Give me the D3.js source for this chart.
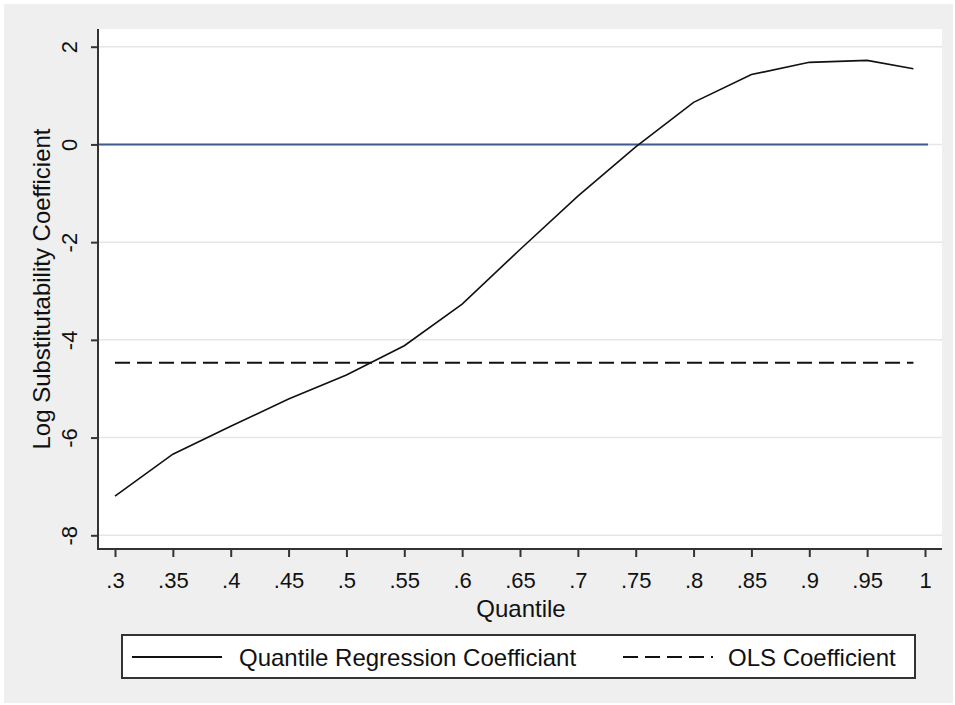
<!DOCTYPE html>
<html>
<head>
<meta charset="utf-8">
<script src="https://cdn.jsdelivr.net/npm/d3@7"></script>
<style>
  body { margin: 0; background: #fff; }
  text { font-family: "Liberation Sans", Arial, sans-serif; fill: #111; }
</style>
</head>
<body>
<script>
/*
DATA
*/
const quantiles = [0.30, 0.35, 0.40, 0.45, 0.50, 0.55, 0.60, 0.65, 0.70, 0.75, 0.80, 0.85, 0.90, 0.95, 0.99]
const qrCoef    = [-7.20, -6.34, -5.77, -5.21, -4.72, -4.12, -3.27, -2.15, -1.06, -0.05, 0.86, 1.43, 1.68, 1.72, 1.55]
const olsCoef   = -4.47
const xTicks = [0.3, 0.35, 0.4, 0.45, 0.5, 0.55, 0.6, 0.65, 0.7, 0.75, 0.8, 0.85, 0.9, 0.95, 1]
const xTickLabels = [".3", ".35", ".4", ".45", ".5", ".55", ".6", ".65", ".7", ".75", ".8", ".85", ".9", ".95", "1"]
const yTicks = [2, 0, -2, -4, -6, -8]
const yTickLabels = ["2", "0", "-2", "-4", "-6", "-8"]
const legendLabels = ["Quantile Regression Coefficiant", "OLS Coefficient"]

/*
SET UP
*/
const w = 955
const h = 705
// plot region (white box)
const plot = ({left: 99, top: 29, right: 942, bottom: 549})

const svg = d3.select("body")
  .append("svg")
  .attr("width", w)
  .attr("height", h);

svg.append("rect")
  .attr("x", 4).attr("y", 4)
  .attr("width", 949).attr("height", 699)
  .attr("fill", "#efefef");

svg.append("rect")
  .attr("x", plot.left).attr("y", plot.top)
  .attr("width", plot.right - plot.left)
  .attr("height", plot.bottom - plot.top)
  .attr("fill", "#fff");

const x = d3.scaleLinear()
  .domain([0.3, 1])
  .range([115, 925]);

const y = d3.scaleLinear()
  .domain([-8, 2])
  .range([535.3, 46.7]);

/*
GRIDLINES & ZERO LINE
*/
svg.selectAll(".grid")
  .data(yTicks)
  .join("line")
  .attr("class", "grid")
  .attr("x1", plot.left).attr("x2", plot.right)
  .attr("y1", (d) => y(d)).attr("y2", (d) => y(d))
  .attr("stroke", "#e6e6e6")
  .attr("stroke-width", 1.5);

svg.append("line")
  .attr("x1", plot.left).attr("x2", plot.right - 14)
  .attr("y1", y(0)).attr("y2", y(0))
  .attr("stroke", "#3f5a8c")
  .attr("stroke-width", 2);

/*
AXES
*/
const xAxis = svg.append("g")
  .attr("transform", `translate(0,${plot.bottom})`)
  .call(d3.axisBottom(x)
    .tickValues(xTicks)
    .tickFormat((d, i) => xTickLabels[i])
    .tickSize(8)
    .tickSizeOuter(0));

xAxis.select(".domain")
  .attr("d", `M${plot.left - 1},0H${plot.right}`);

xAxis.selectAll(".tick text")
  .attr("y", 0)
  .attr("dy", 0)
  .attr("transform", "translate(0,39)")
  .style("font-size", "22px");

const yAxis = svg.append("g")
  .attr("transform", `translate(${plot.left - 1},0)`)
  .call(d3.axisLeft(y)
    .tickValues(yTicks)
    .tickFormat((d, i) => yTickLabels[i])
    .tickSize(7)
    .tickSizeOuter(0));

yAxis.select(".domain")
  .attr("d", `M0,${plot.top}V${plot.bottom + 1}`);

yAxis.selectAll(".tick text")
  .attr("x", 0)
  .attr("y", -21)
  .attr("dy", 0)
  .attr("text-anchor", "middle")
  .attr("transform", "rotate(-90)")
  .style("font-size", "22px");

svg.selectAll(".domain, .tick line")
  .attr("stroke", "#333")
  .attr("stroke-width", 2);

svg.selectAll(".tick text").style("fill", "#111");

// axis titles
svg.append("text")
  .attr("x", (x(0.3) + x(1)) / 2 + 1)
  .attr("y", 617)
  .attr("text-anchor", "middle")
  .style("font-size", "24px")
  .text("Quantile");

svg.append("text")
  .attr("transform", `translate(50,${(plot.top + plot.bottom) / 2}) rotate(-90)`)
  .attr("text-anchor", "middle")
  .style("font-size", "24px")
  .text("Log Substitutability Coefficient");

/*
LINES
*/
const line = d3.line()
  .x((d) => x(d[0]))
  .y((d) => y(d[1]));

svg.append("path")
  .datum(quantiles.map((q) => [q, olsCoef]))
  .attr("d", line)
  .attr("fill", "none")
  .attr("stroke", "#111")
  .attr("stroke-width", 2)
  .attr("stroke-dasharray", "15,7");

svg.append("path")
  .datum(quantiles.map((q, i) => [q, qrCoef[i]]))
  .attr("d", line)
  .attr("fill", "none")
  .attr("stroke", "#111")
  .attr("stroke-width", 1.6);

/*
LEGEND
*/
const legend = svg.append("g");

legend.append("rect")
  .attr("x", 122).attr("y", 635)
  .attr("width", 793).attr("height", 43)
  .attr("fill", "#fff")
  .attr("stroke", "#333")
  .attr("stroke-width", 2);

legend.append("line")
  .attr("x1", 132).attr("x2", 222)
  .attr("y1", 657).attr("y2", 657)
  .attr("stroke", "#111")
  .attr("stroke-width", 2);

legend.append("text")
  .attr("x", 239).attr("y", 666)
  .style("font-size", "24px")
  .text(legendLabels[0]);

legend.append("line")
  .attr("x1", 623).attr("x2", 713)
  .attr("y1", 657).attr("y2", 657)
  .attr("stroke", "#111")
  .attr("stroke-width", 2)
  .attr("stroke-dasharray", "15,7");

legend.append("text")
  .attr("x", 728).attr("y", 666)
  .style("font-size", "24px")
  .text(legendLabels[1]);
</script>
</body>
</html>
